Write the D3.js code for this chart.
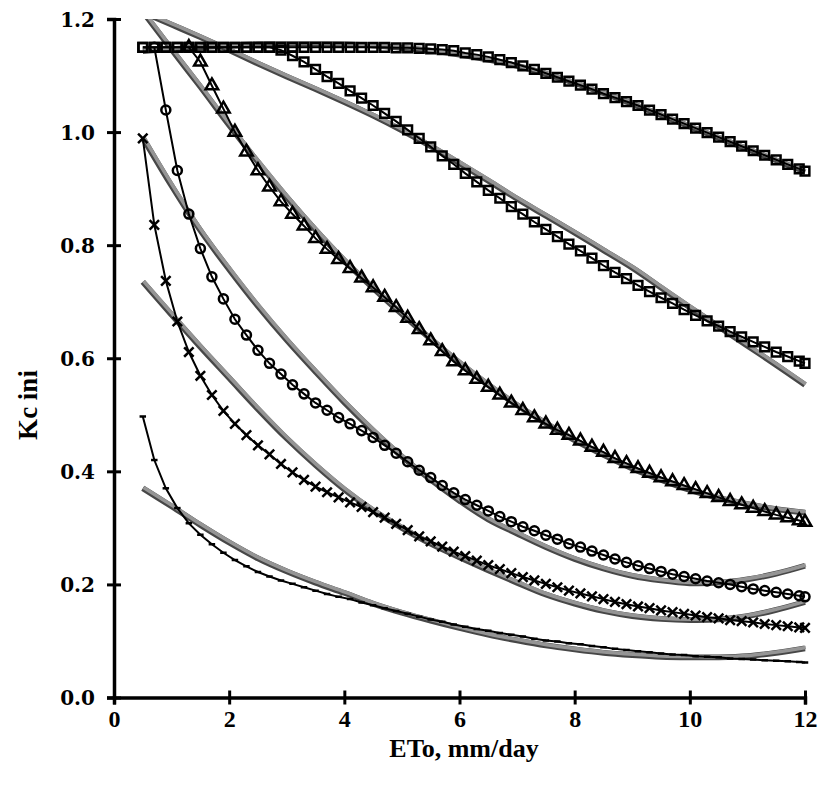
<!DOCTYPE html>
<html><head><meta charset="utf-8">
<script src="https://cdn.jsdelivr.net/npm/d3@7"></script>
<style>body{margin:0;background:#fff}svg{display:block}</style>
</head><body><svg id="c" width="824" height="787"></svg>
<script>
// x grid of the measured series (ETo, mm/day)
const ETO = [0.5,0.7,0.9,1.1,1.3,1.5,1.7,1.9,2.1,2.3,2.5,2.7,2.9,3.1,3.3,3.5,3.7,3.9,4.1,4.3,4.5,4.7,4.9,5.1,5.3,5.5,5.7,5.9,6.1,6.3,6.5,6.7,6.9,7.1,7.3,7.5,7.7,7.9,8.1,8.3,8.5,8.7,8.9,9.1,9.3,9.5,9.7,9.9,10.1,10.3,10.5,10.7,10.9,11.1,11.3,11.5,11.7,11.9,12.0];
const squaresUpper = [1.15,1.15,1.15,1.15,1.15,1.15,1.15,1.15,1.15,1.15,1.15,1.15,1.15,1.15,1.15,1.15,1.15,1.15,1.15,1.15,1.15,1.15,
 1.149,1.149,1.148,1.147,1.146,1.144,1.140,1.137,1.133,1.128,1.123,1.117,1.111,1.104,1.097,1.090,1.083,1.076,1.068,1.061,1.054,1.047,1.039,1.031,1.023,1.015,1.007,0.999,0.991,0.983,0.975,0.967,0.959,0.951,0.943,0.935,0.931];
const squaresLower = [1.15,1.15,1.15,1.15,1.15,1.15,1.15,1.15,1.15,1.15,1.15,1.15,
 1.145,1.135,1.124,1.111,1.098,1.086,1.073,1.060,1.047,1.033,1.019,1.004,0.989,0.974,0.958,0.943,0.927,0.912,0.897,0.883,0.868,0.855,0.841,0.828,0.815,0.802,0.790,0.777,0.764,0.752,0.741,0.729,0.718,0.707,0.697,0.686,0.676,0.666,0.657,0.647,0.638,0.629,0.620,0.611,0.603,0.595,0.591];
const triangles = [null,null,null,null,1.15,
 1.124,1.082,1.041,1.000,0.965,0.932,0.903,0.877,0.855,0.834,0.812,0.793,0.775,0.759,0.742,0.725,0.708,0.690,0.671,0.651,0.631,0.612,0.594,0.578,0.563,0.549,0.535,0.521,0.508,0.495,0.484,0.473,0.464,0.454,0.443,0.434,0.423,0.414,0.405,0.397,0.389,0.382,0.375,0.368,0.361,0.354,0.347,0.341,0.335,0.329,0.323,0.318,0.313,0.310];
const circles = [null,1.15,
 1.039,0.932,0.855,0.794,0.744,0.705,0.669,0.641,0.614,0.591,0.572,0.553,0.537,0.521,0.508,0.495,0.484,0.472,0.460,0.446,0.432,0.417,0.402,0.389,0.375,0.362,0.350,0.340,0.330,0.320,0.311,0.302,0.295,0.287,0.280,0.272,0.266,0.259,0.252,0.245,0.239,0.233,0.228,0.223,0.218,0.214,0.210,0.206,0.203,0.200,0.196,0.192,0.189,0.186,0.183,0.180,0.178];
const crosses = [0.989,0.836,0.737,0.665,0.611,0.569,0.535,0.507,0.484,0.464,
 0.446,0.430,0.413,0.398,0.385,0.373,0.363,0.354,0.345,0.337,
 0.328,0.318,0.307,0.296,0.285,0.276,0.267,0.258,0.250,0.242,
 0.234,0.227,0.220,0.213,0.207,0.201,0.195,0.189,0.184,0.179,
 0.174,0.169,0.165,0.161,0.158,0.154,0.151,0.148,0.145,0.142,
 0.140,0.137,0.135,0.133,0.130,0.128,0.126,0.124,0.123];
const dashes = [0.497,0.420,0.370,0.335,0.308,0.288,0.271,0.256,0.243,0.232,
 0.222,0.214,0.207,0.201,0.195,0.189,0.183,0.178,0.174,0.168,
 0.163,0.158,0.153,0.148,0.143,0.138,0.134,0.129,0.125,0.121,
 0.118,0.114,0.111,0.108,0.104,0.101,0.099,0.096,0.094,0.091,
 0.089,0.086,0.084,0.082,0.080,0.078,0.076,0.075,0.073,0.072,
 0.071,0.069,0.068,0.067,0.066,0.065,0.064,0.063,0.062];

// fitted (gray) curves, read every 0.5 mm/day
const FIT_X = [0.5,1,1.5,2,2.5,3,3.5,4,4.5,5,5.5,6,6.5,7,7.5,8,8.5,9,9.5,10,10.5,11,11.5,12];
const fitSquaresUpper = [1.143,1.147,1.150,1.153,1.155,1.156,1.156,1.155,1.153,1.149,1.144,1.137,1.128,1.117,1.103,1.087,1.069,1.050,1.030,1.010,0.990,0.970,0.950,0.930];
const fitSquaresLower = [1.212,1.190,1.168,1.145,1.121,1.098,1.076,1.053,1.029,1.003,0.975,0.945,0.914,0.882,0.852,0.822,0.791,0.760,0.725,0.690,0.656,0.622,0.588,0.553];
const fitTriangles = [1.213,1.146,1.080,1.012,0.947,0.885,0.827,0.773,0.724,0.678,0.634,0.592,0.553,0.517,0.485,0.455,0.429,0.405,0.385,0.367,0.353,0.342,0.333,0.327];
const fitCircles = [0.990,0.905,0.826,0.757,0.692,0.632,0.576,0.522,0.472,0.426,0.385,0.348,0.315,0.290,0.266,0.245,0.228,0.215,0.207,0.202,0.203,0.209,0.219,0.233];
const fitCrosses = [0.735,0.677,0.620,0.565,0.510,0.458,0.411,0.368,0.331,0.300,0.272,0.248,0.225,0.203,0.182,0.166,0.153,0.144,0.139,0.137,0.138,0.144,0.155,0.169];
const fitDashes = [0.370,0.338,0.305,0.274,0.246,0.223,0.203,0.185,0.166,0.150,0.136,0.123,0.111,0.101,0.092,0.085,0.079,0.075,0.072,0.071,0.071,0.073,0.079,0.087];

const X_TICKS = [0,2,4,6,8,10,12];
const Y_TICKS = [0,0.2,0.4,0.6,0.8,1.0,1.2];
const X_TITLE = "ETo, mm/day";
const Y_TITLE = "Kc ini";

const svg = d3.select("#c");
const x = d3.scaleLinear([0,12],[114,805]);
const y = d3.scaleLinear([0,1.2],[697.5,19]);

svg.append("defs").append("clipPath").attr("id","clip")
  .append("rect").attr("x",0).attr("y",y(1.2)).attr("width",824).attr("height",y(0)-y(1.2)+5);

const plot = svg.append("g").attr("clip-path","url(#clip)");

// gray fitted curves
const fitLine = d3.line().x((d,i)=>x(FIT_X[i])).y(d=>y(d)).curve(d3.curveCatmullRom);
const fits = [fitSquaresUpper,fitSquaresLower,fitTriangles,fitCircles,fitCrosses,fitDashes];
const gFit = plot.append("g");
fits.forEach(f=>{
  gFit.append("path").attr("d",fitLine(f)).attr("fill","none").attr("stroke","#474747").attr("stroke-width",5.8);
});
const gFit2 = plot.append("g").attr("transform","translate(0.8,-0.8)");
fits.forEach(f=>{
  gFit2.append("path").attr("d",fitLine(f)).attr("fill","none").attr("stroke","#959595").attr("stroke-width",3.6);
});

// black measured series
const dataLine = d3.line().defined(d=>d!=null).x((d,i)=>x(ETO[i])).y(d=>y(d));
const dashType = {draw(ctx,size){const w=Math.sqrt(size)/2; ctx.moveTo(-w,0); ctx.lineTo(w,0);}};
const timesType = d3.symbolTimes || d3.symbolX || d3.symbolCross;
const series = [
  {v:squaresUpper, sym:d3.symbolSquare, size:76},
  {v:squaresLower, sym:d3.symbolSquare, size:76},
  {v:triangles, sym:d3.symbolTriangle, size:68},
  {v:circles, sym:d3.symbolCircle, size:64},
  {v:crosses, sym:timesType, size:60},
  {v:dashes, sym:dashType, size:42}
];
series.forEach(s=>{
  const g = plot.append("g");
  g.append("path").attr("d",dataLine(s.v)).attr("fill","none").attr("stroke","#000").attr("stroke-width",2);
  const pts = s.v.map((d,i)=>({x:ETO[i],v:d})).filter(p=>p.v!=null);
  g.selectAll("path.m").data(pts).enter().append("path").attr("class","m")
    .attr("transform",p=>`translate(${x(p.x)},${y(p.v)})`)
    .attr("d",d3.symbol(s.sym,s.size)())
    .attr("fill","none").attr("stroke","#000").attr("stroke-width",2.5);
});

// axes
const xAxis = svg.append("g").attr("transform",`translate(0,${y(0)})`)
  .call(d3.axisBottom(x).tickValues(X_TICKS).tickFormat(d3.format("d")).tickSizeOuter(0).tickSize(7).tickPadding(5));
const yAxis = svg.append("g").attr("transform",`translate(${x(0)},0)`)
  .call(d3.axisLeft(y).tickValues(Y_TICKS).tickFormat(d3.format(".1f")).tickSizeOuter(0).tickSize(7).tickPadding(12));
[xAxis,yAxis].forEach(a=>{
  a.select(".domain").attr("stroke","#000").attr("stroke-width",3.5);
  a.selectAll(".tick line").attr("stroke","#000").attr("stroke-width",3);
});
xAxis.selectAll(".tick line").attr("y1",-7).attr("y2",7);
yAxis.selectAll(".tick line").attr("x1",-7).attr("x2",7);
xAxis.selectAll(".tick text").attr("font-family","'Liberation Serif','Times New Roman',serif")
  .attr("font-weight","bold").attr("font-size",24).attr("fill","#000");
yAxis.selectAll(".tick text").attr("font-family","'DejaVu Serif',serif")
  .attr("font-weight","bold").attr("font-size",20).attr("fill","#000").attr("dy","0.35em");

svg.append("text").attr("x",464).attr("y",757).attr("text-anchor","middle")
  .attr("font-family","'Liberation Serif','Times New Roman',serif").attr("font-weight","bold").attr("font-size",26)
  .text(X_TITLE);
svg.append("text").attr("transform","translate(37,405) rotate(-90)").attr("text-anchor","middle")
  .attr("font-family","'Liberation Serif','Times New Roman',serif").attr("font-weight","bold").attr("font-size",27)
  .text(Y_TITLE);
</script></body></html>
